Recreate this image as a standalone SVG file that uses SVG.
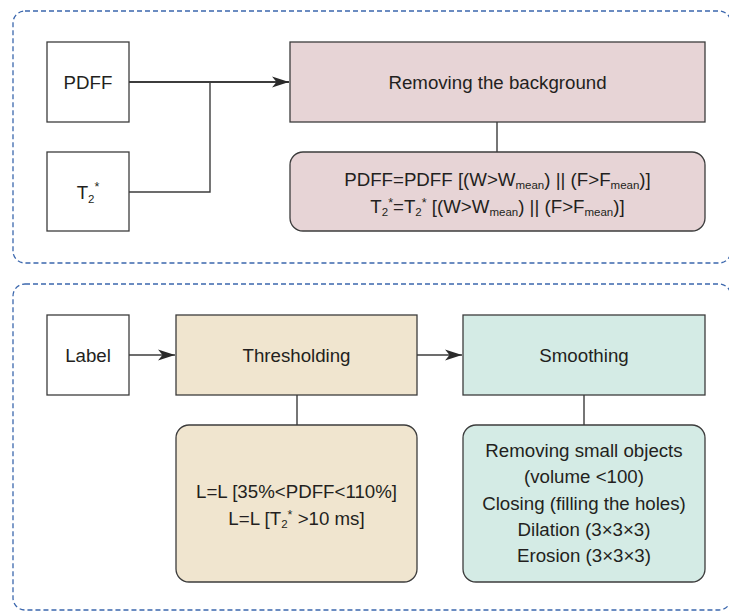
<svg xmlns="http://www.w3.org/2000/svg" width="729" height="612" viewBox="0 0 729 612">
<defs>
<style>
.frame{fill:none;stroke:#3b67ad;stroke-width:1.3;stroke-dasharray:5 3}
.box{stroke:#3c3c3c;stroke-width:1.3}
.plain{fill:#ffffff}
.pink{fill:#e7d4d6}
.beige{fill:#f0e5cf}
.mint{fill:#d4ebe5}
text{font-family:"Liberation Sans",Arial,sans-serif;font-size:18.7px;fill:#231f20;text-anchor:middle}
.sub{font-size:11.5px}
.sup{font-size:12.5px}
.conn{fill:none;stroke:#3c3c3c;stroke-width:1.4}
.main{stroke-width:2}
</style>
<marker id="arr" markerUnits="userSpaceOnUse" markerWidth="18" markerHeight="12" viewBox="0 0 17 12" refX="17" refY="6" orient="auto">
<path d="M0,0.5 L17,6 L0,11.5 L4.5,6 Z" fill="#2a2a2a"/>
</marker>
</defs>

<rect class="frame" x="13" y="11" width="718" height="252" rx="12"/>
<rect class="frame" x="13" y="284" width="718" height="326" rx="12"/>

<g id="connectors">
<path class="conn main" d="M129,82 H289" marker-end="url(#arr)"/>
<path class="conn" d="M129,192 H210 V82"/>
<path class="conn" d="M497,122 V152"/>
<path class="conn" d="M129,355 H175" marker-end="url(#arr)"/>
<path class="conn" d="M417,355 H462" marker-end="url(#arr)"/>
<path class="conn" d="M297,395 V425"/>
<path class="conn" d="M584,395 V425"/>
</g>

<g id="pdff">
<rect class="box plain" x="47" y="42" width="82" height="80"/>
<text x="88" y="89">PDFF</text>
</g>

<g id="t2star">
<rect class="box plain" x="47" y="152" width="82" height="79"/>
<text x="88" y="199">T<tspan class="sub" dy="4">2</tspan><tspan class="sup" dy="-12">*</tspan></text>
</g>

<g id="removing">
<rect class="box pink" x="290" y="42" width="415" height="80"/>
<text x="497.5" y="89">Removing the background</text>
</g>

<g id="formula">
<rect class="box pink" x="290" y="152" width="415" height="79" rx="13"/>
<text x="497.5" y="186">PDFF=PDFF [(W&gt;W<tspan class="sub" dy="3">mean</tspan><tspan dy="-3">) || (F&gt;F</tspan><tspan class="sub" dy="3">mean</tspan><tspan dy="-3">)]</tspan></text>
<text x="497.5" y="213">T<tspan class="sub" dy="3">2</tspan><tspan class="sup" dy="-9">*</tspan><tspan dy="6">=T</tspan><tspan class="sub" dy="3">2</tspan><tspan class="sup" dy="-9">*</tspan><tspan dy="6"> [(W&gt;W</tspan><tspan class="sub" dy="3">mean</tspan><tspan dy="-3">) || (F&gt;F</tspan><tspan class="sub" dy="3">mean</tspan><tspan dy="-3">)]</tspan></text>
</g>

<g id="label">
<rect class="box plain" x="47" y="315" width="82" height="80"/>
<text x="88" y="362">Label</text>
</g>

<g id="thresholding">
<rect class="box beige" x="176" y="315" width="241" height="80"/>
<text x="296.5" y="362">Thresholding</text>
</g>

<g id="smoothing">
<rect class="box mint" x="463" y="315" width="242" height="80"/>
<text x="584" y="362">Smoothing</text>
</g>

<g id="threshold-rules">
<rect class="box beige" x="176" y="425" width="241" height="157" rx="13"/>
<text x="296.5" y="498">L=L [35%&lt;PDFF&lt;110%]</text>
<text x="296.5" y="525">L=L [T<tspan class="sub" dy="3">2</tspan><tspan class="sup" dy="-9">*</tspan><tspan dy="6"> &gt;10 ms]</tspan></text>
</g>

<g id="smoothing-steps">
<rect class="box mint" x="463" y="425" width="242" height="157" rx="13"/>
<text x="584" y="457">Removing small objects</text>
<text x="584" y="483">(volume &lt;100)</text>
<text x="584" y="509.5">Closing (filling the holes)</text>
<text x="584" y="536">Dilation (3×3×3)</text>
<text x="584" y="562">Erosion (3×3×3)</text>
</g>
</svg>
